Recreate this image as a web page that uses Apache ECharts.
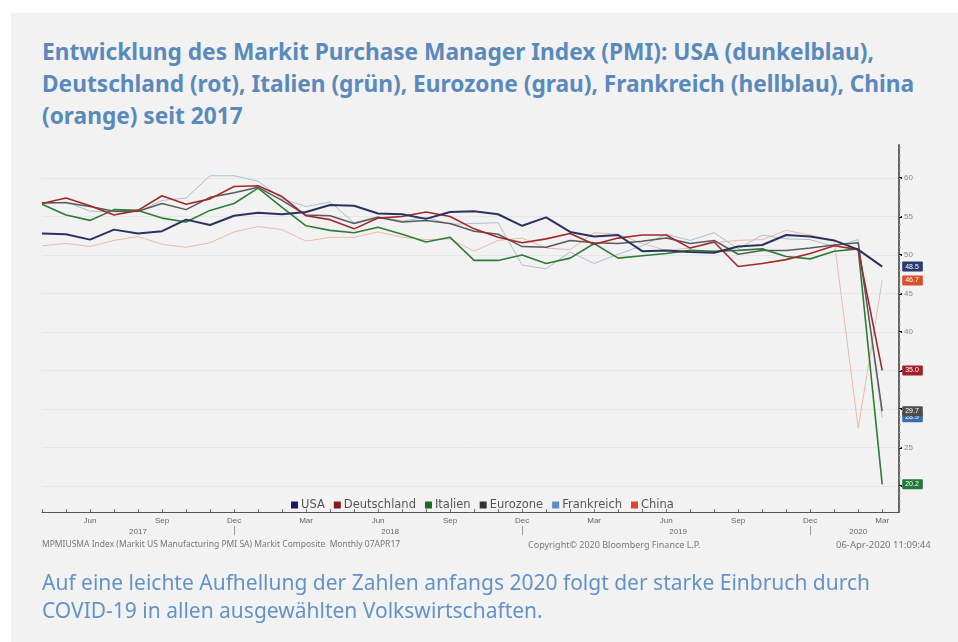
<!DOCTYPE html>
<html>
<head>
<meta charset="utf-8" />
<title>PMI</title>
<script src="https://cdn.jsdelivr.net/npm/echarts@6.0.0/dist/echarts.min.js"></script>
<style>
  body { margin:0; background:#fff; width:958px; height:642px; overflow:hidden; position:relative; font-family:"Noto Sans", sans-serif; }
  #panel { position:absolute; left:11px; top:13px; right:0; bottom:0; background:#f2f2f2; }
  #title { position:absolute; left:42px; top:36px; font-weight:bold; font-size:22.7px; line-height:32px; color:#5a89bb; white-space:nowrap; }
  #main { position:absolute; left:0; top:0; width:958px; height:642px; }
  #caption { position:absolute; left:42px; top:568px; font-size:21px; line-height:28px; color:#6393c6; white-space:nowrap; }
  .src { position:absolute; top:538px; font-size:8.5px; color:#777; white-space:nowrap; }
</style>
</head>
<body>
<div id="panel"></div>
<div id="title">Entwicklung des Markit Purchase Manager Index (PMI): USA (dunkelblau),<br>Deutschland (rot), Italien (grün), Eurozone (grau), Frankreich (hellblau), China<br>(orange) seit 2017</div>
<div id="main"></div>
<div class="src" style="left:42px">MPMIUSMA Index (Markit US Manufacturing PMI SA) Markit Composite&nbsp; Monthly 07APR17</div>
<div class="src" style="left:528px; font-size:9px">Copyright© 2020 Bloomberg Finance L.P.</div>
<div class="src" style="left:836px; font-size:9.5px">06-Apr-2020 11:09:44</div>
<div id="caption">Auf eine leichte Aufhellung der Zahlen anfangs 2020 folgt der starke Einbruch durch<br>COVID-19 in allen ausgewählten Volkswirtschaften.</div>
<script type="text/javascript">
// Monate April 2017 bis März 2020
var months = ['2017-04','2017-05','2017-06','2017-07','2017-08','2017-09','2017-10','2017-11','2017-12',
  '2018-01','2018-02','2018-03','2018-04','2018-05','2018-06','2018-07','2018-08','2018-09','2018-10','2018-11','2018-12',
  '2019-01','2019-02','2019-03','2019-04','2019-05','2019-06','2019-07','2019-08','2019-09','2019-10','2019-11','2019-12',
  '2020-01','2020-02','2020-03'];
var monthNames = { '03': 'Mar', '06': 'Jun', '09': 'Sep', '12': 'Dec' };
var yTicks = [20, 25, 30, 35, 40, 45, 50, 55, 60];

var usa         = [52.8,52.7,52.0,53.3,52.8,53.1,54.6,53.9,55.1,55.5,55.3,55.6,56.5,56.4,55.4,55.3,54.7,55.6,55.7,55.3,53.8,54.9,53.0,52.4,52.6,50.5,50.6,50.4,50.3,51.1,51.3,52.6,52.4,51.9,50.7,48.5];
var deutschland = [56.7,57.4,56.4,55.2,55.8,57.7,56.6,57.3,58.9,59.0,57.6,55.1,54.6,53.4,54.8,55.0,55.6,55.0,53.4,52.3,51.6,52.1,52.8,51.4,52.2,52.6,52.6,50.9,51.7,48.5,48.9,49.4,50.2,51.2,50.7,35.0];
var italien     = [56.6,55.2,54.5,55.9,55.8,54.8,54.3,55.8,56.7,58.7,56.2,53.8,53.2,52.9,53.6,52.7,51.7,52.3,49.3,49.3,50.0,48.9,49.6,51.5,49.6,49.9,50.2,50.6,50.5,50.6,50.8,49.8,49.5,50.5,50.8,20.2];
var eurozone    = [56.8,56.8,56.3,55.7,55.7,56.7,55.9,57.5,58.1,58.8,57.1,55.2,55.1,54.1,54.9,54.3,54.5,54.1,53.1,52.7,51.1,51.0,51.9,51.6,51.5,51.8,52.2,51.5,51.9,50.1,50.6,50.6,50.9,51.3,51.6,29.7];
var frankreich  = [56.6,56.9,55.7,55.6,55.6,57.1,57.4,60.3,60.3,59.6,57.3,56.3,56.9,54.2,55.0,54.4,54.9,54.0,54.1,54.2,48.7,48.2,50.4,48.9,50.1,51.2,52.7,51.9,52.9,50.8,52.6,52.1,52.0,51.1,52.0,28.9];
var china       = [51.2,51.5,51.1,51.9,52.4,51.4,51.0,51.6,53.0,53.7,53.3,51.8,52.3,52.3,53.0,52.3,52.0,52.1,50.5,51.9,52.2,50.9,50.7,52.9,52.7,51.5,50.6,50.9,51.6,51.9,52.0,53.2,52.6,51.9,27.5,46.7];

// Hilfswerte fuer die Achsen
var allIdx = months.map(function (m, i) { return i; });
var quarterIdx = allIdx.filter(function (i) { return monthNames[months[i].slice(5)]; });
var decIdx = allIdx.filter(function (i) { return months[i].slice(5) === '12' && i < months.length - 1; });
var years = [], yearPos = [];
months.forEach(function (m, i) {
  var y = m.slice(0, 4);
  var k = years.indexOf(y);
  if (k < 0) { years.push(y); yearPos.push([i, i]); } else { yearPos[k][1] = i; }
});
var yearCenters = yearPos.map(function (p) { return (p[0] + p[1]) / 2; });
var minorTicks = [];
for (var v = 17; v <= 64; v++) minorTicks.push(v);

function toPairs(arr) { return arr.map(function (v, i) { return [i, v]; }); }

function mkSeries(name, data, color, lineColor, width, tagColor) {
  return {
    name: name, type: 'line', data: toPairs(data), symbol: 'none',
    color: color,
    lineStyle: { color: lineColor, width: width },
    endLabel: {
      show: true, distance: 20, fontSize: 7, color: '#fff',
      backgroundColor: tagColor, padding: [2, 4, 1, 3], borderRadius: 1,
      formatter: function (p) { return p.value[1].toFixed(1); }
    }
  };
}

var myChart = echarts.init(document.getElementById('main'));
myChart.setOption({
  animation: false,
  grid: { left: 42, right: 59, top: 145, bottom: 130 },
  legend: {
    data: ['USA', 'Deutschland', 'Italien', 'Eurozone', 'Frankreich', 'China'],
    left: 286, top: 494, icon: 'rect', itemWidth: 7, itemHeight: 7, itemGap: 9,
    textStyle: { fontSize: 11.5, fontFamily: 'DejaVu Sans', color: '#555', padding: [0, 0, 0, -2] }
  },
  xAxis: [{
    type: 'value', min: 0, max: 35.7,
    axisLine: { onZero: false, lineStyle: { color: '#555', width: 1 } },
    axisTick: { customValues: allIdx, length: 3, inside: true, lineStyle: { color: '#777' } },
    axisLabel: {
      customValues: quarterIdx, fontSize: 8, color: '#666', margin: 5,
      formatter: function (v) { return monthNames[months[v].slice(5)]; }
    },
    splitLine: { show: false }
  }, {
    type: 'value', min: 0, max: 35.7, position: 'bottom', offset: 14,
    axisLine: { show: false, onZero: false },
    axisTick: { customValues: decIdx, length: 9, lineStyle: { color: '#999' } },
    axisLabel: {
      customValues: yearCenters, fontSize: 8, color: '#666', margin: 2,
      formatter: function (v) { return years[yearCenters.indexOf(v)]; }
    },
    splitLine: { show: false }
  }],
  yAxis: [{
    type: 'value', position: 'right', min: 16.6, max: 64.3,
    axisLine: { show: true, onZero: false, lineStyle: { color: '#666', width: 2 } },
    axisTick: { show: true, customValues: yTicks, length: 3, lineStyle: { color: '#111', width: 2 } },
    axisLabel: { customValues: yTicks, fontSize: 8, color: '#888', margin: 5 },
    splitLine: { show: true, lineStyle: { color: '#e6e6e6', width: 1 } }
  }, {
    type: 'value', position: 'right', min: 16.6, max: 64.3,
    axisLine: { show: false, onZero: false },
    axisTick: { show: true, customValues: minorTicks, length: 2, lineStyle: { color: '#aaa' } },
    axisLabel: { show: false },
    splitLine: { show: false }
  }],
  series: [
    mkSeries('China', china, '#e0452a', '#ebb9a9', 1, '#d6502a'),
    mkSeries('Frankreich', frankreich, '#5b8ccc', '#a9bfcc', 1, '#3b6db0'),
    mkSeries('Eurozone', eurozone, '#333333', '#5a5a5a', 1.5, '#4d4d4d'),
    mkSeries('Italien', italien, '#1a6b1a', '#2f7d35', 1.6, '#217a3a'),
    mkSeries('Deutschland', deutschland, '#8b1a1a', '#a3282b', 1.6, '#a12127'),
    mkSeries('USA', usa, '#1a1a5e', '#2b3260', 2, '#283a6e')
  ]
});
</script>
</body>
</html>
